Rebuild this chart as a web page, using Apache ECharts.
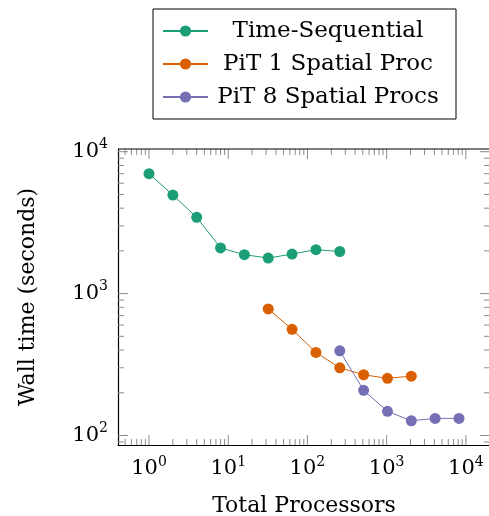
<!DOCTYPE html>
<html>
<head>
<meta charset="utf-8">
<script src="https://cdn.jsdelivr.net/npm/echarts@6/dist/echarts.min.js"></script>
<style>
  html, body { margin: 0; padding: 0; background: #fff; }
  #chart { width: 489px; height: 516px; }
</style>
</head>
<body>
<div id="chart"></div>
<script>
// Data
var seqProcs = [1, 2, 4, 8, 16, 32, 64, 128, 256];
var seqTime = [7000, 4950, 3450, 2100, 1880, 1780, 1900, 2040, 1980];
var pit1Procs = [32, 64, 128, 256, 512, 1024, 2048];
var pit1Time = [780, 560, 385, 300, 268, 253, 262];
var pit8Procs = [256, 512, 1024, 2048, 4096, 8192];
var pit8Time = [395, 208, 148, 127, 132, 132];
var seriesNames = ['Time-Sequential', 'PiT 1 Spatial Proc', 'PiT 8 Spatial Procs'];
var colors = ['#1b9e77', '#d95f02', '#7570b3'];

// Axis limits and tick positions
var xMin = 0.406, xMax = 20170;
var yMin = 85.7, yMax = 10450;
var xDecades = [1, 10, 100, 1000, 10000];
var yDecades = [100, 1000, 10000];
var minorMult = [2, 3, 4, 5, 6, 7, 8, 9];

function minorTicks(decadeStarts, lo, hi) {
    var out = [];
    decadeStarts.forEach(function (d) {
        minorMult.forEach(function (m) {
            var v = d * m;
            if (v > lo && v < hi) out.push(v);
        });
    });
    return out;
}
var xMinor = minorTicks([0.1, 1, 10, 100, 1000, 10000], xMin, xMax);
var yMinor = minorTicks([10, 100, 1000], yMin, yMax);

var font = 'DejaVu Serif';
var tickColor = '#8c8c8c';

function pair(xs, ys) {
    return xs.map(function (x, i) { return [x, ys[i]]; });
}

function powLabel(v) {
    var e = Math.log10(v);
    var r = Math.round(e);
    if (Math.abs(e - r) > 1e-6) return '';
    return '{b|10}{s|' + r + '}';
}
var labelRich = {
    b: { fontFamily: font, fontSize: 21, color: '#000', lineHeight: 28 },
    s: { fontFamily: font, fontSize: 14, color: '#000', lineHeight: 16, verticalAlign: 'top' }
};

// Tick marks on all four sides (pgfplots style)
function xTickItem(params, api) {
    var cs = params.coordSys;
    var px = api.coord([api.value(0), yMin])[0];
    var len = api.value(1);
    var st = { stroke: tickColor, lineWidth: 1 };
    return {
        type: 'group',
        children: [
            { type: 'line', shape: { x1: px, y1: cs.y + cs.height, x2: px, y2: cs.y + cs.height - len }, style: st },
            { type: 'line', shape: { x1: px, y1: cs.y, x2: px, y2: cs.y + len }, style: st }
        ]
    };
}
function yTickItem(params, api) {
    var cs = params.coordSys;
    var py = api.coord([xMin, api.value(0)])[1];
    var len = api.value(1);
    var st = { stroke: tickColor, lineWidth: 1 };
    return {
        type: 'group',
        children: [
            { type: 'line', shape: { x1: cs.x, y1: py, x2: cs.x + len, y2: py }, style: st },
            { type: 'line', shape: { x1: cs.x + cs.width, y1: py, x2: cs.x + cs.width - len, y2: py }, style: st }
        ]
    };
}
var xTickData = xDecades.map(function (v) { return [v, 10]; })
    .concat(xMinor.map(function (v) { return [v, 6]; }));
var yTickData = yDecades.map(function (v) { return [v, 10]; })
    .concat(yMinor.map(function (v) { return [v, 6]; }));

var chart = echarts.init(document.getElementById('chart'));
chart.setOption({
    animation: false,
    grid: { left: 118, right: -1, top: 149, bottom: 71, outerBoundsMode: 'none', containLabel: false },
    legend: {
        data: seriesNames,
        orient: 'vertical',
        left: 153,
        top: 9,
        padding: [10, 13, 10, 9],
        itemGap: 9,
        itemWidth: 45,
        itemHeight: 14,
        borderColor: '#000',
        borderWidth: 1,
        borderRadius: 0,
        formatter: function (name) { return '{c|' + name + '}'; },
        textStyle: {
            fontFamily: font,
            fontSize: 23,
            color: '#000',
            lineHeight: 24,
            rich: { c: { fontFamily: font, fontSize: 23, color: '#000', width: 230, align: 'center', lineHeight: 24 } }
        }
    },
    xAxis: {
        type: 'log',
        logBase: 10,
        min: xMin,
        max: xMax,
        name: 'Total Processors',
        nameLocation: 'middle',
        nameGap: 50,
        nameTextStyle: { fontFamily: font, fontSize: 22, color: '#000' },
        axisLine: { show: true, onZero: false, lineStyle: { color: '#000', width: 1.2 } },
        axisTick: { show: false },
        splitLine: { show: false },
        axisLabel: { formatter: powLabel, rich: labelRich, margin: 10, showMinLabel: true, showMaxLabel: true }
    },
    yAxis: {
        type: 'log',
        logBase: 10,
        min: yMin,
        max: yMax,
        name: 'Wall time (seconds)',
        nameLocation: 'middle',
        nameGap: 79,
        nameTextStyle: { fontFamily: font, fontSize: 22, color: '#000' },
        axisLine: { show: true, onZero: false, lineStyle: { color: '#000', width: 1.2 } },
        axisTick: { show: false },
        splitLine: { show: false },
        axisLabel: { formatter: powLabel, rich: labelRich, margin: 10 }
    },
    series: [{
        name: seriesNames[0],
        type: 'line',
        data: pair(seqProcs, seqTime),
        color: colors[0],
        symbol: 'circle',
        symbolSize: 11,
        lineStyle: { width: 1 }
    }, {
        name: seriesNames[1],
        type: 'line',
        data: pair(pit1Procs, pit1Time),
        color: colors[1],
        symbol: 'circle',
        symbolSize: 11,
        lineStyle: { width: 1 }
    }, {
        name: seriesNames[2],
        type: 'line',
        data: pair(pit8Procs, pit8Time),
        color: colors[2],
        symbol: 'circle',
        symbolSize: 11,
        lineStyle: { width: 1 }
    }, {
        type: 'custom',
        renderItem: xTickItem,
        data: xTickData,
        silent: true,
        clip: false,
        encode: { x: 0 }
    }, {
        type: 'custom',
        renderItem: yTickItem,
        data: yTickData,
        silent: true,
        clip: false,
        encode: { y: 0 }
    }, {
        // top and right frame lines
        type: 'custom',
        renderItem: function (params, api) {
            var cs = params.coordSys;
            return {
                type: 'polyline',
                shape: { points: [[cs.x, cs.y], [cs.x + cs.width, cs.y], [cs.x + cs.width, cs.y + cs.height]] },
                style: { stroke: '#000', lineWidth: 1.2, fill: null }
            };
        },
        data: [[1, 1000]],
        silent: true,
        clip: false
    }]
});
</script>
</body>
</html>
